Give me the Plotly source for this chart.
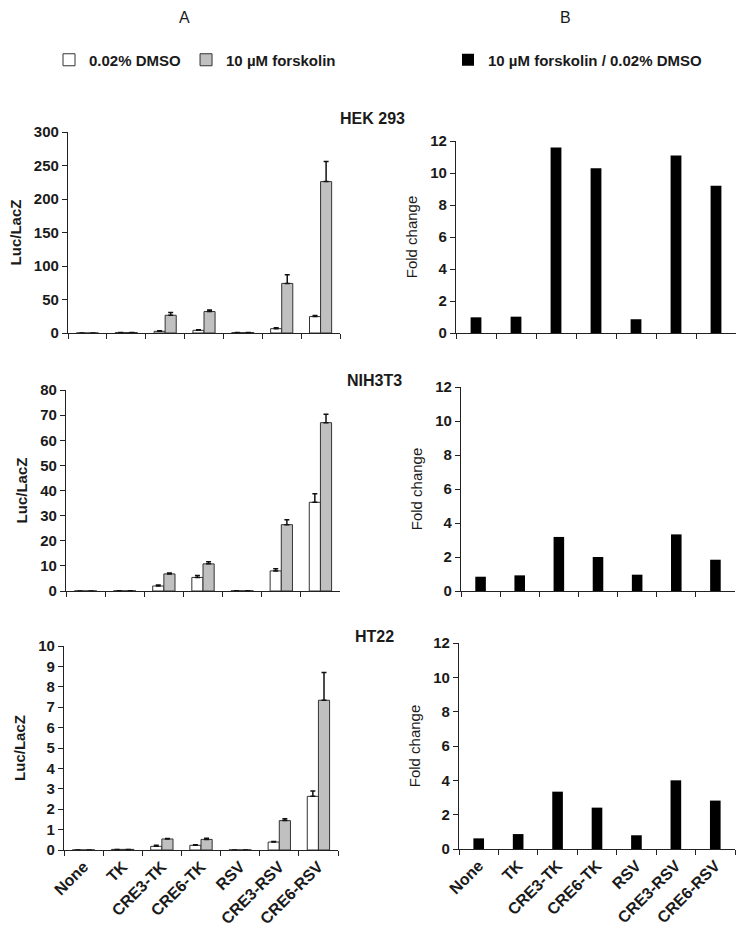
import plotly.graph_objects as go

# ---------------- data ----------------
categories = ["None", "TK", "CRE3-TK", "CRE6-TK", "RSV", "CRE3-RSV", "CRE6-RSV"]

hek_dmso = [0, 0.6, 2.5, 4.0, 0.6, 6.5, 24.5]
hek_dmso_err = [0, 0.2, 0.8, 0.8, 0.2, 1.5, 1.5]
hek_fsk = [0, 0.7, 26.5, 32.0, 0.6, 74, 226]
hek_fsk_err = [0, 0.2, 4.0, 2.5, 0.2, 13, 30]

nih_dmso = [0.02, 0.05, 2.0, 5.4, 0.08, 8.0, 35.3]
nih_dmso_err = [0, 0, 0.4, 0.8, 0, 0.9, 3.4]
nih_fsk = [0.02, 0.05, 6.8, 10.8, 0.08, 26.4, 67]
nih_fsk_err = [0, 0, 0.4, 0.8, 0, 2.0, 3.3]

ht_dmso = [0.003, 0.03, 0.18, 0.23, 0.005, 0.39, 2.63]
ht_dmso_err = [0, 0, 0.05, 0.03, 0, 0.03, 0.26]
ht_fsk = [0.003, 0.03, 0.54, 0.52, 0.005, 1.44, 7.34]
ht_fsk_err = [0, 0, 0.02, 0.05, 0, 0.09, 1.36]

hek_fold = [0.98, 1.02, 11.6, 10.3, 0.86, 11.1, 9.2]
nih_fold = [0.84, 0.92, 3.18, 2.0, 0.96, 3.33, 1.84]
ht_fold = [0.62, 0.87, 3.34, 2.41, 0.80, 4.0, 2.82]

cell_lines = ["HEK 293", "NIH3T3", "HT22"]
left_ranges = [300, 80, 10]
left_dticks = [50, 10, 1]

# ---------------- style ----------------
FONT = "Liberation Sans, Arial, sans-serif"
W, H = 750, 940

def px_x(v):
    return v / W

def px_y(v):
    return 1 - v / H

# pixel boxes: (x0, x1, ytop, ybottom)
left_boxes = [(68, 340, 132, 333), (66, 340, 390, 591), (64, 338, 646, 850)]
right_boxes = [(456, 736, 141, 333), (461, 735, 387, 591), (459, 735, 643, 849)]

fig = go.Figure()

left_data = [
    (hek_dmso, hek_dmso_err, hek_fsk, hek_fsk_err),
    (nih_dmso, nih_dmso_err, nih_fsk, nih_fsk_err),
    (ht_dmso, ht_dmso_err, ht_fsk, ht_fsk_err),
]
right_data = [hek_fold, nih_fold, ht_fold]

BW_L = 0.285
BW_R = 0.27

for i in range(3):
    xl = "x" if i == 0 else f"x{2*i+1}"
    yl = "y" if i == 0 else f"y{2*i+1}"
    xr = f"x{2*i+2}"
    yr = f"y{2*i+2}"
    d, de, f, fe = left_data[i]
    fig.add_trace(go.Bar(
        x=categories, y=d, name="0.02% DMSO", xaxis=xl, yaxis=yl,
        width=BW_L, offset=-BW_L,
        marker=dict(color="white", line=dict(color="#333333", width=1)),
        error_y=dict(type="data", symmetric=False, array=de, arrayminus=[0]*len(de),
                     color="#111111", thickness=1.5, width=2.5),
        showlegend=(i == 0), legend="legend",
    ))
    fig.add_trace(go.Bar(
        x=categories, y=f, name="10 µM forskolin", xaxis=xl, yaxis=yl,
        width=BW_L, offset=0,
        marker=dict(color="#c0c0c0", line=dict(color="#333333", width=1)),
        error_y=dict(type="data", symmetric=False, array=fe, arrayminus=[0]*len(fe),
                     color="#111111", thickness=1.5, width=2.5),
        showlegend=(i == 0), legend="legend",
    ))
    fig.add_trace(go.Bar(
        x=categories, y=right_data[i], name="10 µM forskolin / 0.02% DMSO",
        xaxis=xr, yaxis=yr, width=BW_R, offset=-BW_R / 2,
        marker=dict(color="black", line=dict(width=0)),
        showlegend=(i == 0), legend="legend2",
    ))

tickfont = dict(family=FONT, size=15, color="#1a1a1a", weight="bold")
layout = dict(
    width=W, height=H, autosize=False,
    margin=dict(l=0, r=0, t=0, b=0, pad=0, autoexpand=False),
    paper_bgcolor="white", plot_bgcolor="white",
    barmode="overlay",
    font=dict(family=FONT, color="#1a1a1a"),
)

for i in range(3):
    for side, boxes in (("L", left_boxes), ("R", right_boxes)):
        n = 2 * i + 1 if side == "L" else 2 * i + 2
        key_x = "xaxis" if n == 1 else f"xaxis{n}"
        key_y = "yaxis" if n == 1 else f"yaxis{n}"
        anchor_x = "y" if n == 1 else f"y{n}"
        anchor_y = "x" if n == 1 else f"x{n}"
        x0, x1, yt, yb = boxes[i]
        layout[key_x] = dict(
            domain=[px_x(x0), px_x(x1)], anchor=anchor_x, automargin=False,
            type="category", range=[-0.5, 6.5], tickson="boundaries",
            ticks="outside", ticklen=5, tickwidth=1, tickcolor="#222",
            showline=True, linecolor="#222", linewidth=1.3, showgrid=False,
            showticklabels=(i == 2), tickangle=-45,
            tickfont=dict(family=FONT, size=16, color="#1a1a1a", weight="bold"),
            zeroline=False,
        )
        if side == "L":
            ycfg = dict(range=[0, left_ranges[i]], dtick=left_dticks[i],
                        title=dict(text="Luc/LacZ", standoff=8,
                                   font=dict(family=FONT, size=15, color="#1a1a1a", weight="bold")))
        else:
            ycfg = dict(range=[0, 12], dtick=2,
                        title=dict(text="Fold change", standoff=8,
                                   font=dict(family=FONT, size=15, color="#1a1a1a")))
        ycfg.update(
            domain=[px_y(yb), px_y(yt)], anchor=anchor_y, automargin=False,
            ticks="outside", ticklen=5, tickwidth=1, tickcolor="#222",
            showline=True, linecolor="#222", linewidth=1.3, showgrid=False,
            zeroline=False, tickfont=tickfont,
        )
        layout[key_y] = ycfg

layout["legend"] = dict(
    x=px_x(49), y=px_y(60), xanchor="left", yanchor="middle",
    orientation="h", bgcolor="rgba(0,0,0,0)",
    font=dict(family=FONT, size=15, color="#1a1a1a", weight="bold"),
)
layout["legend2"] = dict(
    x=px_x(448), y=px_y(60), xanchor="left", yanchor="middle",
    orientation="h", bgcolor="rgba(0,0,0,0)",
    font=dict(family=FONT, size=15, color="#1a1a1a", weight="bold"),
)

annotations = [
    dict(text="A", x=px_x(184), y=px_y(18), xref="paper", yref="paper",
         xanchor="center", yanchor="middle",
         showarrow=False, font=dict(family=FONT, size=16, color="#1a1a1a")),
    dict(text="B", x=px_x(565), y=px_y(18), xref="paper", yref="paper",
         xanchor="center", yanchor="middle",
         showarrow=False, font=dict(family=FONT, size=16, color="#1a1a1a")),
]
label_pos = [(372, 118), (374, 380), (374, 636)]
for name, (lx, ly) in zip(cell_lines, label_pos):
    annotations.append(dict(
        text=name, x=px_x(lx), y=px_y(ly), xref="paper", yref="paper",
        xanchor="center", yanchor="middle",
        showarrow=False,
        font=dict(family=FONT, size=16, color="#1a1a1a", weight="bold")))
layout["annotations"] = annotations

fig.update_layout(**layout)
fig.write_html("out.html", config={"displayModeBar": False},
               post_script="document.body.style.margin='0';")
